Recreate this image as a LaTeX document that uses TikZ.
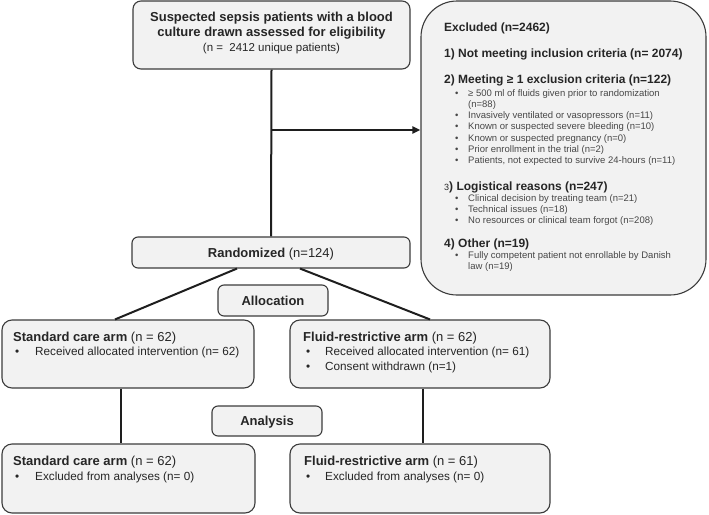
\documentclass[tikz,border=0pt]{standalone}
\usepackage{fontspec}
\setmainfont{Liberation Sans}
\usetikzlibrary{arrows.meta}

\definecolor{boxfill}{HTML}{F2F2F2}
\definecolor{boxline}{HTML}{3C3C3C}
\definecolor{linecol}{HTML}{1E1E1E}
\definecolor{txtcol}{HTML}{262626}

\newcommand{\blt}[1]{\makebox[#1][l]{\textbullet}}

\tikzset{
  box/.style={draw=boxline, line width=1.1pt, fill=boxfill, rounded corners=8pt, inner sep=0pt},
  conn/.style={draw=linecol, line width=2pt},
  bigtxt/.style={font=\fontsize{13}{15}\selectfont, text=txtcol, inner sep=0pt, anchor=base},
  subtxt/.style={font=\fontsize{11.5}{14}\selectfont, text=txtcol, inner sep=0pt, anchor=base},
  armhd/.style={font=\fontsize{13}{15}\selectfont, text=txtcol, inner sep=0pt, anchor=base west},
  armit/.style={font=\fontsize{11.75}{14}\selectfont, text=txtcol, inner sep=0pt, anchor=base west},
  exhd/.style={font=\fontsize{12}{14}\selectfont\bfseries, text=txtcol, inner sep=0pt, anchor=base west},
  exitem/.style={font=\fontsize{9.5}{11}\selectfont, text=txtcol!85, inner sep=0pt, anchor=base west},
}

\begin{document}
\begin{tikzpicture}[x=1pt,y=-1pt]
\useasboundingbox (0,0) rectangle (709,514);

% boxes
\node[box, minimum width=277pt, minimum height=68pt] (screen) at (271.5,35) {};
\node[box, rounded corners=36pt, minimum width=285pt, minimum height=294pt] (excl) at (563.5,148) {};
\node[box, rounded corners=6pt, minimum width=278pt, minimum height=31pt,
      font=\fontsize{13}{15}\selectfont, text=txtcol, text height=9.4pt, text depth=0pt] (rand) at (271,252.5)
      {\textbf{Randomized} (n=124)};
\node[box, rounded corners=6pt, minimum width=110pt, minimum height=31pt,
      font=\fontsize{13}{15}\selectfont\bfseries, text=txtcol, text height=9.4pt, text depth=0pt] (alloc) at (273,300.5)
      {Allocation};
\node[box, minimum width=252pt, minimum height=68pt, rounded corners=10pt] (std) at (128,354) {};
\node[box, minimum width=260pt, minimum height=68pt, rounded corners=10pt] (flu) at (420,354) {};
\node[box, rounded corners=6pt, minimum width=110pt, minimum height=30pt,
      font=\fontsize{13}{15}\selectfont\bfseries, text=txtcol, text height=9.4pt, text depth=0pt] (anal) at (267,421)
      {Analysis};
\node[box, minimum width=253pt, minimum height=69pt, rounded corners=10pt] (stdan) at (128.5,478.5) {};
\node[box, minimum width=260pt, minimum height=69pt, rounded corners=10pt] (fluan) at (420,478.5) {};

% screening text
\node[bigtxt, font=\fontsize{13}{15}\selectfont\bfseries] (scr1) at (271.5,21.5) {Suspected sepsis patients with a blood};
\node[bigtxt, font=\fontsize{13}{15}\selectfont\bfseries] (scr2) at (271.5,36.5) {culture drawn assessed for eligibility};
\node[subtxt] (scr3) at (271.5,51) {(n =\ \ 2412 unique patients)};

% excluded text
\node[exhd] (exhead) at (444,31) {Excluded (n=2462)};
\node[exhd] (ex1) at (444,57) {1) Not meeting inclusion criteria (n= 2074)};
\node[exhd] (ex2) at (444,83) {2) Meeting ≥ 1 exclusion criteria (n=122)};
\node[exitem] (ex2a) at (455,96) {\blt{13pt}≥ 500 ml of fluids given prior to randomization};
\node[exitem] (ex2b) at (468,107.3) {(n=88)};
\node[exitem] (ex2c) at (455,118.6) {\blt{13pt}Invasively ventilated or vasopressors (n=11)};
\node[exitem] (ex2d) at (455,129.9) {\blt{13pt}Known or suspected severe bleeding (n=10)};
\node[exitem] (ex2e) at (455,141.2) {\blt{13pt}Known or suspected pregnancy (n=0)};
\node[exitem] (ex2f) at (455,152.5) {\blt{13pt}Prior enrollment in the trial (n=2)};
\node[exitem] (ex2g) at (455,163.8) {\blt{13pt}Patients, not expected to survive 24-hours (n=11)};
\node[exhd] (ex3) at (444,190) {{\fontsize{9}{9}\selectfont\mdseries 3}) Logistical reasons (n=247)};
\node[exitem] (ex3a) at (455,201) {\blt{13pt}Clinical decision by treating team (n=21)};
\node[exitem] (ex3b) at (455,212.3) {\blt{13pt}Technical issues (n=18)};
\node[exitem] (ex3c) at (455,223.6) {\blt{13pt}No resources or clinical team forgot (n=208)};
\node[exhd] (ex4) at (444,247) {4) Other (n=19)};
\node[exitem] (ex4a) at (455,258) {\blt{13pt}Fully competent patient not enrollable by Danish};
\node[exitem] (ex4b) at (468,269.3) {law (n=19)};

% arm text
\node[armhd] (std1) at (13,341) {\textbf{Standard care arm} (n = 62)};
\node[armit] (std2) at (15,355.5) {\blt{20pt}Received allocated intervention (n= 62)};
\node[armhd] (flu1) at (303,341) {\textbf{Fluid-restrictive arm} (n = 62)};
\node[armit] (flu2) at (306,355.5) {\blt{19pt}Received allocated intervention (n= 61)};
\node[armit] (flu3) at (306,370) {\blt{19pt}Consent withdrawn (n=1)};
\node[armhd] (stdan1) at (13,465.5) {\textbf{Standard care arm} (n = 62)};
\node[armit] (stdan2) at (15,480) {\blt{20pt}Excluded from analyses (n= 0)};
\node[armhd] (fluan1) at (304,465.5) {\textbf{Fluid-restrictive arm} (n = 61)};
\node[armit] (fluan2) at (306,480) {\blt{19pt}Excluded from analyses (n= 0)};

% connectors
\coordinate (splitlvl) at (0,130);
\coordinate (split) at (screen.south |- splitlvl);
\coordinate (stdin) at ([xshift=-8pt]stdan.north);
\coordinate (fluin) at ([xshift=3pt]fluan.north);
\draw[conn] (screen.south) -- (rand.north);
\draw[conn, -{Triangle[length=8pt,width=7pt]}] (split) -- (split -| excl.west);
\draw[conn] ([xshift=-34pt]rand.south) -- ([xshift=-13pt]std.north);
\draw[conn] ([xshift=29pt]rand.south) -- ([xshift=10pt]flu.north);
\draw[conn] (stdin |- std.south) -- (stdin);
\draw[conn] (fluin |- flu.south) -- (fluin);
\end{tikzpicture}
\end{document}
